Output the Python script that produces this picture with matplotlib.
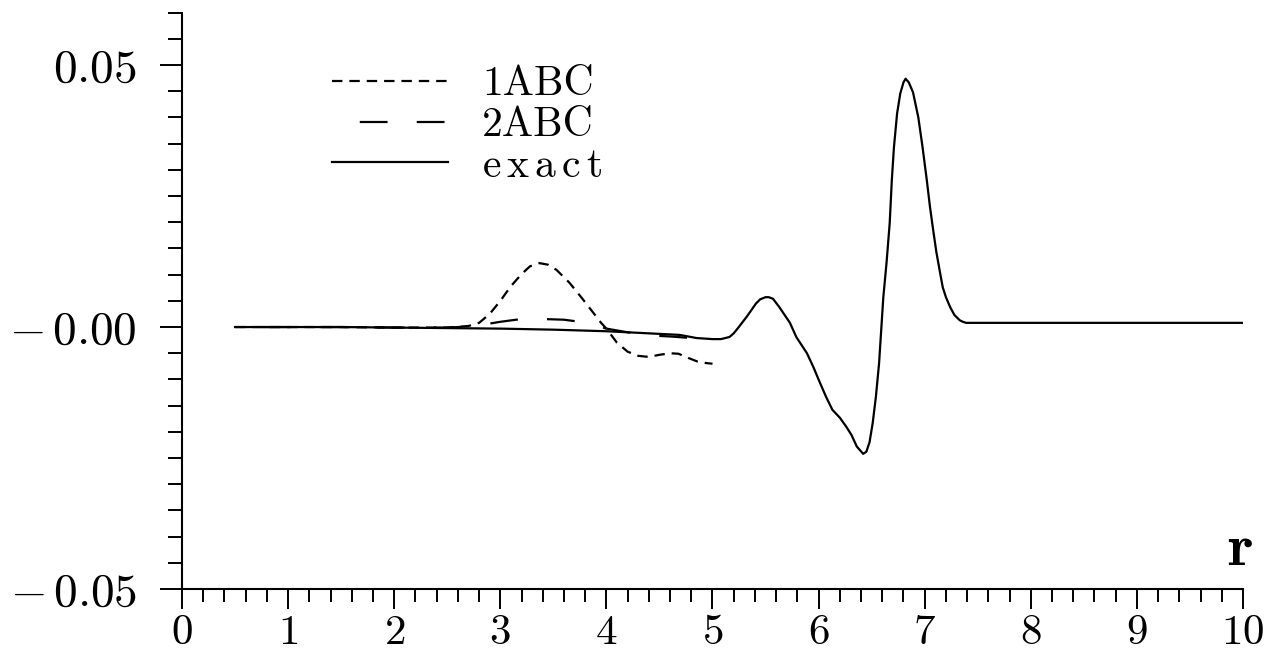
import matplotlib
matplotlib.use("Agg")
import matplotlib.pyplot as plt

plt.rcParams["font.family"] = ["cmr10", "DejaVu Serif"]
plt.rcParams["mathtext.fontset"] = "cm"
plt.rcParams["axes.formatter.use_mathtext"] = True
plt.rcParams["lines.scale_dashes"] = False

# ---- data -------------------------------------------------------------
r_exact = [0.5, 1.0, 1.5, 2.0, 2.5, 3.0, 3.5, 4.0, 4.3, 4.69, 4.85, 5.0,
           5.08, 5.16, 5.2, 5.24, 5.32, 5.41, 5.45, 5.5, 5.53, 5.57, 5.63,
           5.73, 5.79, 5.89, 5.95, 6.01, 6.07, 6.13, 6.2, 6.26, 6.31, 6.36,
           6.42, 6.45, 6.48, 6.51, 6.54, 6.57, 6.59, 6.61, 6.64, 6.67, 6.69,
           6.71, 6.74, 6.77, 6.8, 6.82, 6.85, 6.89, 6.94, 6.98, 7.02, 7.05,
           7.08, 7.11, 7.14, 7.17, 7.2, 7.24, 7.28, 7.33, 7.36, 7.39, 7.45,
           7.7, 8.5, 9.3, 10.0]
u_exact = [0.0, 0.0, 0.0, -0.0001, -0.0002, -0.0003, -0.0005, -0.0008,
           -0.0011, -0.0015, -0.0021, -0.0023, -0.0023, -0.0019, -0.0012,
           -0.0002, 0.0019, 0.0045, 0.0053, 0.0057, 0.0057, 0.0054, 0.0038,
           0.0008, -0.0019, -0.0050, -0.0076, -0.0105, -0.0133, -0.0158,
           -0.0173, -0.0190, -0.0206, -0.0228, -0.0242, -0.0238, -0.0220,
           -0.0183, -0.0133, -0.0069, -0.0006, 0.0057, 0.0122, 0.0198, 0.0280,
           0.0343, 0.0408, 0.0446, 0.0467, 0.0474, 0.0467, 0.0448, 0.0400,
           0.0343, 0.0280, 0.0229, 0.0185, 0.0143, 0.0109, 0.0076, 0.0057,
           0.0038, 0.0023, 0.0013, 0.0010, 0.0008, 0.0008, 0.0008, 0.0008,
           0.0008, 0.0008]

r_1abc = [0.5, 1.0, 1.5, 2.0, 2.5, 2.7, 2.8, 2.9, 3.0, 3.1, 3.2, 3.28,
          3.37, 3.45, 3.53, 3.65, 3.77, 3.87, 3.95, 4.0, 4.1, 4.2, 4.3,
          4.4, 4.5, 4.6, 4.68, 4.76, 4.86, 4.95, 5.0]
u_1abc = [0.0, 0.0, 0.0, -0.0001, -0.0001, 0.0002, 0.0008, 0.0025, 0.0050,
          0.0078, 0.0101, 0.0116, 0.0122, 0.0119, 0.0109, 0.0085, 0.0055,
          0.0029, 0.0008, -0.0003, -0.0030, -0.0047, -0.0055, -0.0057,
          -0.0053, -0.0050, -0.0051, -0.0058, -0.0066, -0.0069, -0.0070]

r_2abc = [0.5, 1.0, 1.5, 2.0, 2.5, 2.7, 2.85, 3.0, 3.15, 3.3, 3.45, 3.6,
          3.75, 3.9, 4.0, 4.2, 4.4, 4.6, 4.8, 5.0]
u_2abc = [0.0, 0.0, 0.0, -0.0001, -0.0001, 0.0001, 0.0005, 0.0010, 0.0014,
          0.0016, 0.0015, 0.0014, 0.0010, 0.0003, -0.0003, -0.0010, -0.0016,
          -0.0018, -0.0021, -0.0023]

x_ticks = [0, 1, 2, 3, 4, 5, 6, 7, 8, 9, 10]
x_tick_labels = ["0", "1", "2", "3", "4", "5", "6", "7", "8", "9", "10"]
y_ticks = [-0.05, 0.0, 0.05]
y_tick_labels = ["-0.05", "-0.00", "0.05"]
series_names = ["1ABC", "2ABC", "exact"]


def cm_number(s):
    """Typeset a number in Computer Modern, with a gap after a leading minus."""
    if s.startswith("-"):
        return r"$-\,%s$" % s[1:]
    return "$%s$" % s


def cm_word(s):
    """Typeset a lowercase word in upright Computer Modern, loosely spaced."""
    return r"$\mathrm{%s}$" % r"\,".join(s)


# ---- figure -----------------------------------------------------------
W, H = 1274, 654
fig = plt.figure(figsize=(W / 100, H / 100), dpi=100)
ax = fig.add_axes([182 / W, 1 - 589 / H, (1243 - 182) / W, (589 - 12.7) / H])

lw = 1.6
ax.plot(r_1abc, u_1abc, color="black", lw=lw, linestyle=(0, (7.5, 5.0)),
        label=series_names[0])
ax.plot(r_2abc, u_2abc, color="black", lw=lw, linestyle=(21, (20, 21)),
        label=series_names[1])
ax.plot(r_exact, u_exact, color="black", lw=lw, linestyle="-",
        label=cm_word(series_names[2]))

ax.set_xlim(0, 10)
ax.set_ylim(-0.05, 0.06)

for side in ("top", "right"):
    ax.spines[side].set_visible(False)
for side in ("left", "bottom"):
    ax.spines[side].set_linewidth(1.5)

ax.set_xticks(x_ticks)
ax.set_xticklabels([cm_number(t) for t in x_tick_labels])
ax.set_xticks([i * 0.2 for i in range(51) if i % 5], minor=True)
ax.set_yticks(y_ticks)
ax.set_yticklabels([cm_number(t) for t in y_tick_labels])
ax.set_yticks([-0.05 + i * 0.005 for i in range(23) if i % 10], minor=True)

ax.tick_params(axis="x", which="major", direction="out", length=14.4,
               width=1.4, labelsize=31, pad=4)
ax.tick_params(axis="x", which="minor", direction="out", length=9.2,
               width=1.4)
ax.tick_params(axis="y", which="major", direction="out", length=15.6,
               width=1.4, labelsize=34, pad=17)
ax.tick_params(axis="y", which="minor", direction="out", length=10.3,
               width=1.4)

ax.text(0.997, 0.042, r"$\mathbf{r}$", transform=ax.transAxes, fontsize=43,
        ha="center", va="baseline")

leg = ax.legend(loc="upper left", bbox_to_anchor=(332 / W, 1 - 66 / H),
                bbox_transform=fig.transFigure, frameon=False, fontsize=30,
                handlelength=2.78, handletextpad=0.82, labelspacing=0.08,
                borderpad=0, borderaxespad=0)

fig.savefig("out.png", dpi=100, facecolor="white")
